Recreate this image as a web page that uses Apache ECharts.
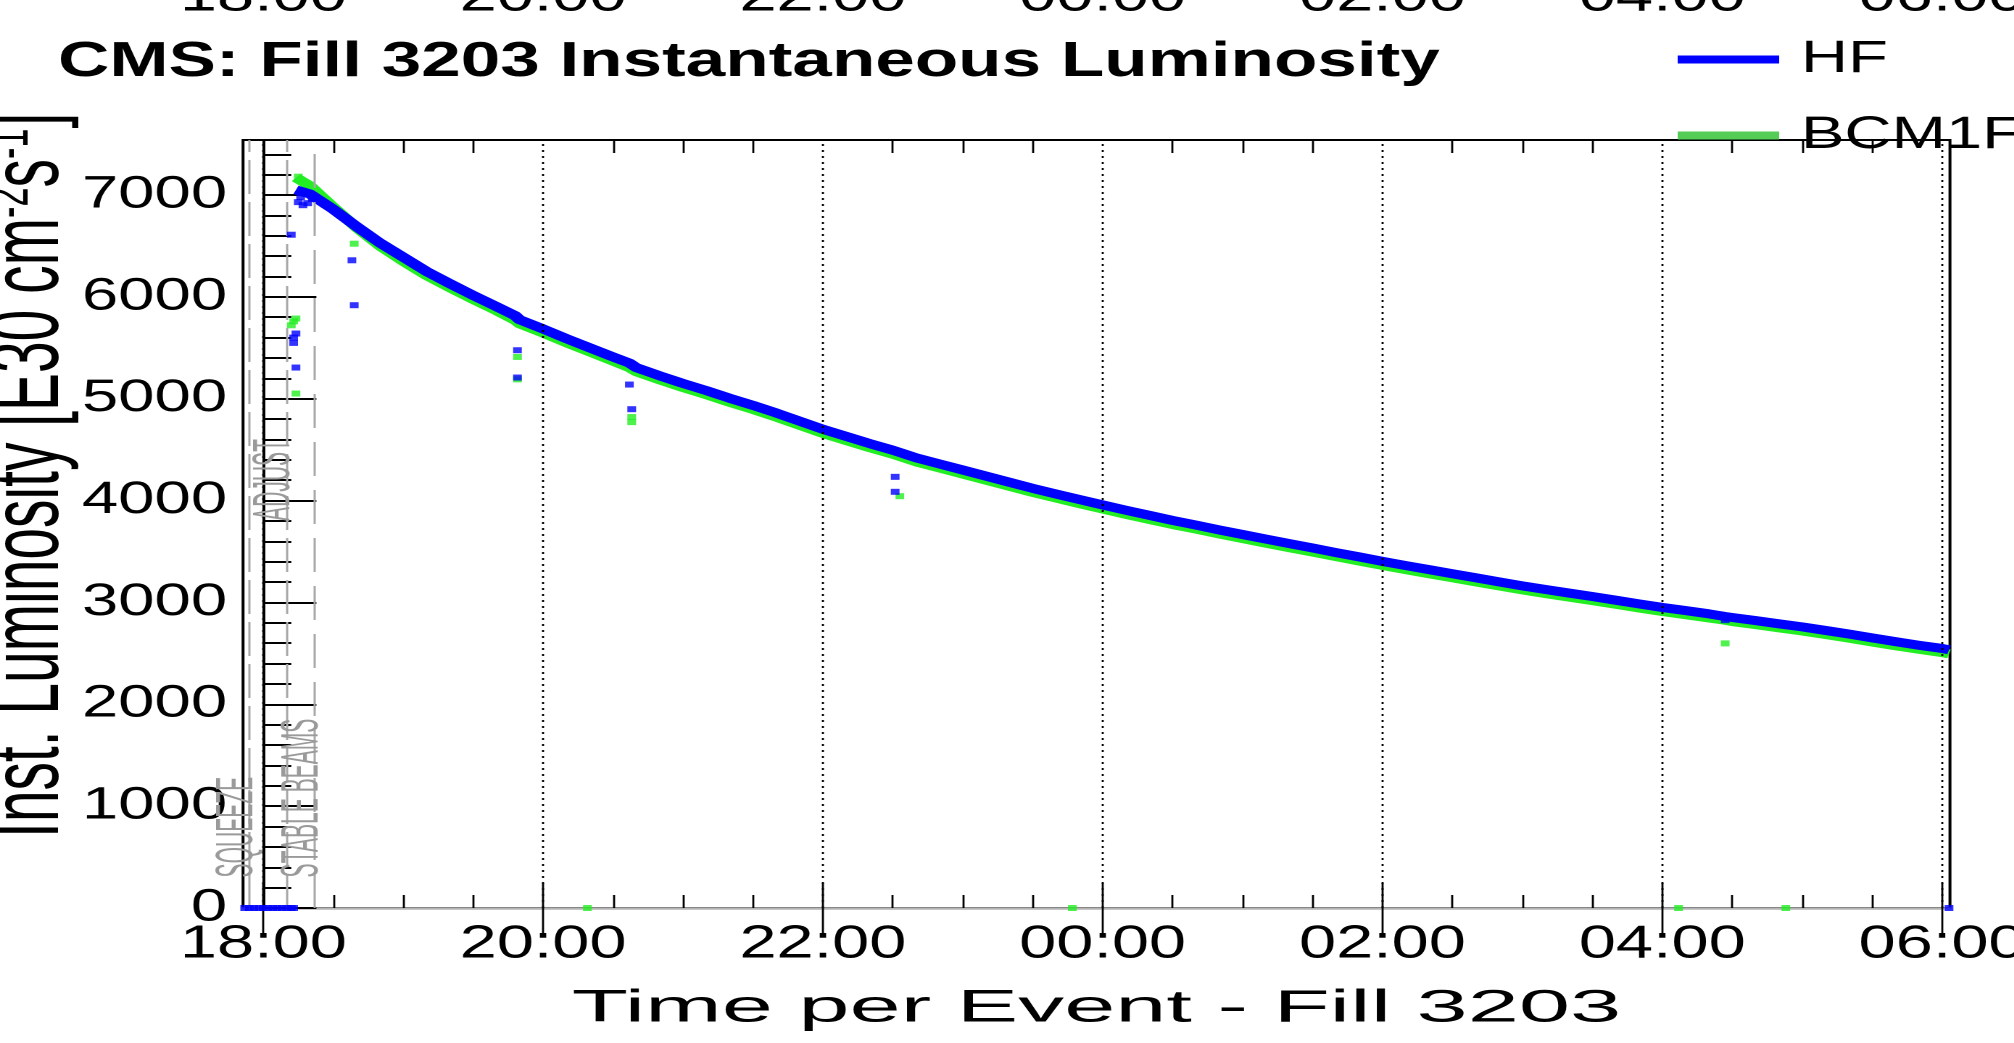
<!DOCTYPE html>
<html><head><meta charset="utf-8">
<script src="https://cdn.jsdelivr.net/npm/echarts@6/dist/echarts.min.js"></script>
<style>
html,body{margin:0;padding:0;width:2014px;height:1043px;overflow:hidden;background:#fff;}
#chart{width:1389px;height:1043px;transform:scaleX(1.45);transform-origin:0 0;}
</style></head><body><div id="chart"></div>
<script>
// ---------------- data ----------------
const xTickLabels = ['18:00','20:00','22:00','00:00','02:00','04:00','06:00'];
const yTickLabels = [0,1000,2000,3000,4000,5000,6000,7000];

const curveTimes = [
 '18:14','18:20','18:30','18:40','18:50','19:00','19:10','19:20','19:30','19:40',
 '19:48','19:50','20:00','20:10','20:20','20:30','20:37','20:40','20:50','21:00',
 '21:10','21:20','21:30','21:40','21:50','22:00','22:10','22:20','22:30','22:40',
 '22:50','23:00','23:10','23:20','23:30','23:40','23:50','00:00','00:10','00:20',
 '00:30','00:40','00:50','01:00','01:10','01:20','01:30','01:40','01:50','02:00',
 '02:10','02:20','02:30','02:40','02:50','03:00','03:10','03:20','03:30','03:40',
 '03:50','04:00','04:10','04:20','04:27','04:30','04:40','04:50','05:00','05:10',
 '05:20','05:30','05:40','05:50','06:00','06:03'];
const hfValues = [
 7050,7010,6860,6690,6530,6390,6250,6130,6015,5905,
 5815,5775,5685,5590,5500,5410,5350,5305,5225,5150,
 5080,5005,4935,4860,4780,4700,4630,4560,4495,4420,
 4360,4300,4240,4180,4120,4065,4010,3957,3905,3855,
 3805,3760,3712,3667,3622,3578,3535,3490,3447,3403,
 3362,3322,3282,3242,3202,3163,3127,3092,3058,3022,
 2986,2951,2920,2888,2862,2852,2822,2790,2760,2725,
 2690,2652,2615,2580,2548,2535];
const bcmValues = [
 7170,7090,6880,6680,6500,6350,6210,6090,5975,5865,
 5770,5735,5645,5550,5460,5370,5305,5265,5185,5110,
 5040,4965,4895,4820,4740,4660,4590,4520,4455,4380,
 4320,4260,4200,4140,4080,4025,3970,3917,3865,3815,
 3765,3720,3672,3627,3582,3538,3495,3450,3407,3363,
 3322,3282,3242,3202,3162,3123,3087,3052,3018,2982,
 2946,2911,2880,2848,2825,2812,2782,2750,2720,2685,
 2650,2612,2575,2540,2508,2495];

const hfSpikeTimes  = ['18:12','18:13','18:13','18:14','18:14','18:15','18:16','18:17','18:19','18:21','18:38','18:39','19:49','19:49','20:37','20:38','22:31','22:31','04:27'];
const hfSpikeValues = [6610,5600,5548,5640,5306,6930,6980,6900,6920,6960,6359,5918,5476,5208,5139,4897,4233,4086,2826];
const hfZeroTimes   = ['17:52','17:54','17:56','17:58','18:00','18:02','18:04','18:06','18:08','18:10','18:12','18:13','06:03'];

const bcmSpikeTimes  = ['18:12','18:13','18:14','18:14','18:15','18:16','18:39','19:49','19:49','20:38','20:38','22:33','04:27'];
const bcmSpikeValues = [5721,5760,5787,5051,7180,7150,6522,5410,5190,4820,4770,4043,2598];
const bcmZeroTimes   = ['20:19','23:47','04:07','04:53'];

const phaseNames = ['SQUEEZE','ADJUST','STABLE BEAMS'];
const phaseTimes = ['17:54','18:10','18:22'];

// ---------------- helpers ----------------
const FONT = "'Liberation Sans', Arial, Helvetica, sans-serif";
function toMin(s){ const p = s.split(':').map(Number); let v = p[0]*60 + p[1]; if (p[0] < 12) v += 1440; return v - 1080; }
function pad(n){ return (n < 10 ? '0' : '') + n; }
function fmt(v){ const t = ((Math.round(1080 + v) % 1440) + 1440) % 1440; return pad(Math.floor(t/60)) + ':' + pad(t%60); }
const zip = (ts, vs) => ts.map((t,i) => [toMin(t), vs[i]]);

const X_MIN = -8.7, X_MAX = 723.4, Y_MAX = 7540;
const majorX = xTickLabels.map(toMin);
const minorX = []; for (let v = 30; v < 720; v += 30) if (v % 120) minorX.push(v);
const minorY = []; for (let v = 200; v < Y_MAX; v += 200) if (v % 1000) minorY.push(v);

const GRID = {left:167.6, right:44.2, top:140, bottom:135};

function xAx(extra){
  return Object.assign({type:'value', min:X_MIN, max:X_MAX, gridIndex:0,
    axisLine:{show:false}, splitLine:{show:false}, minorTick:{show:false}, axisLabel:{show:false},
    axisPointer:{show:false}}, extra);
}

const chart = echarts.init(document.getElementById('chart'), null, {renderer:'canvas', devicePixelRatio:2});

const option = {
  animation:false,
  backgroundColor:'#fff',
  title:{text:'CMS: Fill 3203 Instantaneous Luminosity', left:40, top:38, padding:0,
    textStyle:{fontSize:49, fontWeight:'bold', fontFamily:FONT, color:'#000'}},
  legend:{orient:'vertical', left:1157, top:37, padding:0, itemWidth:70, itemHeight:8, itemGap:31,
    selectedMode:false,
    data:[{name:'HF', icon:'rect', itemStyle:{color:'#0000ff'}},
          {name:'BCM1F', icon:'rect', itemStyle:{color:'#55cc55'}}],
    textStyle:{fontSize:45, fontFamily:FONT, color:'#000', padding:[0,0,0,10]}},
  grid:{left:GRID.left, right:GRID.right, top:GRID.top, bottom:GRID.bottom, containLabel:false,
    outerBoundsMode:'none', show:true, borderColor:'#000', borderWidth:2, backgroundColor:'transparent'},
  xAxis:[
    xAx({position:'bottom', onZero:false,
      axisLine:{show:true, onZero:false, lineStyle:{color:'#b4b4b4', width:2.5}},
      axisTick:{show:true, inside:true, length:25, customValues:majorX, lineStyle:{color:'#000', width:1.4}},
      axisLabel:{show:true, customValues:majorX, formatter:fmt, margin:14, fontSize:46, fontFamily:FONT, color:'#000'}}),
    xAx({position:'bottom', axisTick:{show:true, inside:true, length:13, customValues:minorX, lineStyle:{color:'#000', width:1.4}}}),
    xAx({position:'top',
      axisTick:{show:true, inside:true, length:26, customValues:majorX, lineStyle:{color:'#000', width:1.4}},
      axisLabel:{show:true, customValues:majorX, formatter:fmt, margin:119, fontSize:46, fontFamily:FONT, color:'#000'}}),
    xAx({position:'top', axisTick:{show:true, inside:true, length:13, customValues:minorX, lineStyle:{color:'#000', width:1.4}}})
  ],
  yAxis:[
    {type:'value', min:0, max:Y_MAX, position:'left', gridIndex:0,
      axisLine:{show:true, lineStyle:{color:'#000', width:2}},
      axisTick:{show:true, inside:true, length:36.6, customValues:yTickLabels, lineStyle:{color:'#000', width:2}},
      axisLabel:{show:true, customValues:yTickLabels, formatter:v => String(v), margin:11, fontSize:45, fontFamily:FONT, color:'#000'},
      splitLine:{show:false}, minorTick:{show:false}},
    {type:'value', min:0, max:Y_MAX, position:'left', gridIndex:0,
      axisLine:{show:false}, splitLine:{show:false}, axisLabel:{show:false},
      axisTick:{show:true, inside:true, length:19.3, customValues:minorY, lineStyle:{color:'#000', width:2}}}
  ],
  series:[
    {name:'guides', type:'line', xAxisIndex:0, yAxisIndex:0, data:[], z:1, silent:true,
      markLine:{silent:true, symbol:['none','none'], label:{show:false}, animation:false,
        data: majorX.map(v => ({xAxis:v, lineStyle:{color:'#000', width:1.4, type:[2,4]}}))
          .concat(phaseTimes.map((t,i) => ({xAxis:toMin(t),
            lineStyle:{color:'#a8a8a8', width:1.5, type: i === 2 ? [34,14] : [34,8]}})))}},
    {name:'BCM1F', type:'line', data:zip(curveTimes, bcmValues), showSymbol:false, z:2,
      lineStyle:{color:'#22ee22', width:9, join:'round'}, itemStyle:{color:'#22ee22'}},
    {name:'BCM1F', type:'scatter', data:zip(bcmSpikeTimes, bcmSpikeValues).concat(bcmZeroTimes.map(t => [toMin(t), 0])),
      symbol:'rect', symbolSize:[6,6], z:3, itemStyle:{color:'#22ee22'}},
    {name:'HF', type:'line', data:zip(curveTimes, hfValues), showSymbol:false, z:4,
      lineStyle:{color:'#0000ff', width:9, join:'round'}, itemStyle:{color:'#0000ff'}},
    {name:'HF', type:'scatter', data:zip(hfSpikeTimes, hfSpikeValues).concat(hfZeroTimes.map(t => [toMin(t), 0])),
      symbol:'rect', symbolSize:[6,6], z:5, itemStyle:{color:'#0000ff'}}
  ],
  graphic:[
    {id:'ytitle', type:'text', x:55, y:838, rotation:Math.PI/2, scaleX:0.837, silent:true,
      style:{text:'Inst. Luminosity [E30 cm{sup|-2}s{sup|-1}]', fontSize:68, fontFamily:FONT, fill:'#000',
        align:'left', verticalAlign:'bottom',
        rich:{sup:{fontSize:41, fontFamily:FONT, fill:'#000', verticalAlign:'top'}}}},
    {id:'xtitle', type:'text', x:(GRID.left + 1389 - GRID.right)/2, y:1009, scaleX:1.409, silent:true,
      style:{text:'Time per Event - Fill 3203', fontSize:45, fontFamily:FONT, fill:'#000', align:'center', verticalAlign:'middle'}}
  ]
};
chart.setOption(option);

// phase labels positioned from the axis scales
const phaseLabelBottom = [300, 3800, 300];
const phaseGraphics = phaseNames.map((n,i) => {
  const p = chart.convertToPixel({xAxisIndex:0, yAxisIndex:0}, [toMin(phaseTimes[i]), phaseLabelBottom[i]]);
  return {id:'phase'+i, type:'text', x:p[0] + 10, y:p[1], rotation:Math.PI/2, scaleX:0.585, silent:true, z:10,
    style:{text:n, fontSize:36, fontFamily:FONT, fill:'#9a9a9a', align:'left', verticalAlign:'bottom'}};
});
chart.setOption({graphic: phaseGraphics});
</script></body></html>
